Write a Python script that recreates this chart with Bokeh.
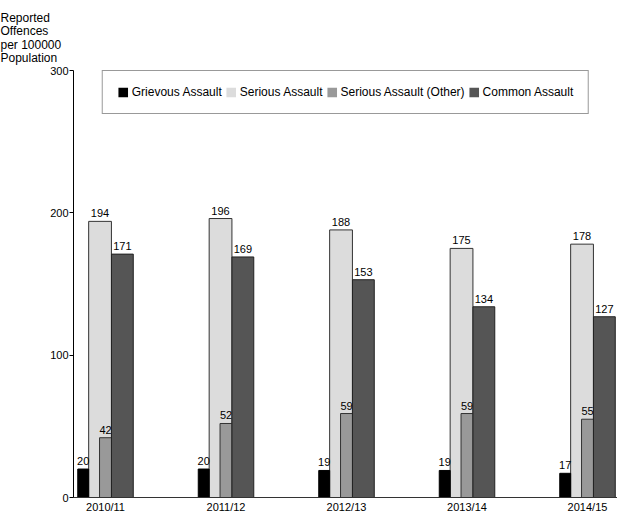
from bokeh.plotting import figure
from bokeh.models import (FixedTicker, Range1d, Legend, LegendItem, Title,
                          ColumnDataSource)
from bokeh.embed import file_html
from bokeh.resources import INLINE

years = ["2010/11", "2011/12", "2012/13", "2013/14", "2014/15"]
grievous = [20, 20, 19, 19, 17]
serious = [194, 196, 188, 175, 178]
serious_other = [42, 52, 59, 59, 55]
common = [171, 169, 153, 134, 127]
series_names = ["Grievous Assault", "Serious Assault",
                "Serious Assault (Other)", "Common Assault"]
y_ticks = [0, 100, 200, 300]
title_lines = ["Reported", "Offences", "per 100000", "Population"]

FONT = "Liberation Sans"
FS = "11px"

idx = list(range(len(years)))

p = figure(width=617, height=516, output_backend="svg", toolbar_location=None,
           title=None,
           x_range=Range1d(-0.2656, 4.249), y_range=Range1d(0, 300),
           min_border_left=73, min_border_right=0, min_border_top=70,
           min_border_bottom=19)
p.background_fill_color = "white"
p.border_fill_color = "white"
p.outline_line_color = None
p.xgrid.visible = False
p.ygrid.visible = False

# (values, name, fill colour, offset, width, outline)
specs = [
    (serious, series_names[1], "#dcdcdc", -0.0453, 0.189, "#333333"),
    (serious_other, series_names[2], "#999999", 0.0, 0.099, "#333333"),
    (grievous, series_names[0], "#000000", -0.185, 0.0905, "#000000"),
    (common, series_names[3], "#555555", 0.14, 0.181, "#222222"),
]

fills = {}
for vals, name, col, off, w, lc in specs:
    xs = [i + off for i in idx]
    src = ColumnDataSource(dict(x=xs, top=vals, lab=[str(v) for v in vals]))
    fills[name] = p.vbar(x="x", top="top", width=w, source=src,
                         fill_color=col, line_color=None)
    p.vbar(x="x", top="top", width=w, source=src, fill_color=None,
           line_color=lc, line_width=1)
    p.text(x="x", y="top", text="lab", source=src, text_align="center",
           text_baseline="alphabetic", y_offset=-8, text_font_size=FS,
           text_font={"value": FONT}, text_color="#000000")

legend = Legend(items=[LegendItem(label=n, renderers=[fills[n]])
                       for n in series_names],
                orientation="horizontal", location="top_center",
                margin=0, padding=14, spacing=3,
                glyph_width=12, glyph_height=12, label_height=12,
                label_standoff=3,
                label_text_font=FONT, label_text_font_size="12px",
                label_text_color="black",
                border_line_color="#333333", border_line_width=1,
                background_fill_color="white", background_fill_alpha=1)
p.add_layout(legend, "center")

# axes
p.xaxis.ticker = FixedTicker(ticks=idx)
p.xaxis.major_label_overrides = {i: y for i, y in zip(idx, years)}
p.xaxis.major_tick_out = 0
p.xaxis.major_tick_in = 0
p.xaxis.minor_tick_out = 0
p.xaxis.minor_tick_in = 0
p.xaxis.major_label_standoff = 3
p.xaxis.axis_label_standoff = 0
p.xaxis.axis_line_color = "#333333"

p.yaxis.ticker = FixedTicker(ticks=y_ticks)
p.yaxis.major_tick_out = 4
p.yaxis.major_tick_in = 0
p.yaxis.minor_tick_out = 0
p.yaxis.minor_tick_in = 0
p.yaxis.major_label_standoff = 1
p.yaxis.axis_line_color = "#000000"

for ax in (p.xaxis[0], p.yaxis[0]):
    ax.major_label_text_font = FONT
    ax.major_label_text_font_size = FS
    ax.major_label_text_color = "black"
    ax.major_tick_line_color = "#000000"

p.add_layout(Title(text="\n".join(title_lines), align="left", offset=-73,
                   text_font=FONT, text_font_size="12px",
                   text_font_style="normal", text_color="black",
                   text_line_height=0.96, standoff=11), "above")

open("out.html", "w").write(file_html(p, INLINE))
